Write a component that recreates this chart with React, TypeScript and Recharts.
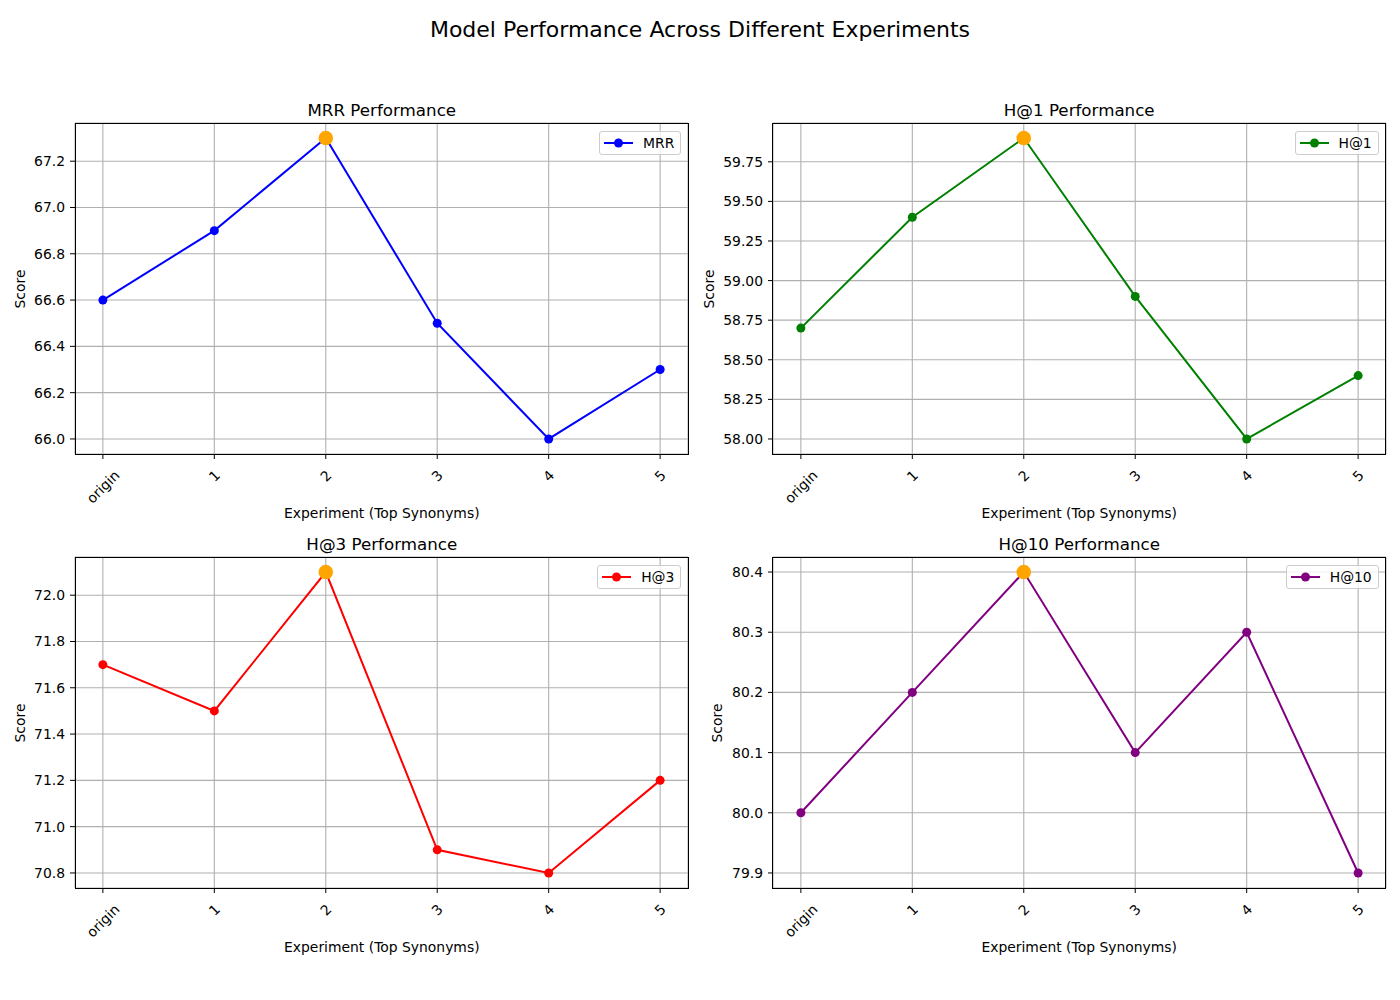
import React from 'react';
import { LineChart, Line, XAxis, YAxis, CartesianGrid } from 'recharts';

const categories = ['origin', '1', '2', '3', '4', '5'];

const mrrValues = [66.6, 66.9, 67.3, 66.5, 66.0, 66.3];
const h1Values = [58.7, 59.4, 59.9, 58.9, 58.0, 58.4];
const h3Values = [71.7, 71.5, 72.1, 70.9, 70.8, 71.2];
const h10Values = [80.0, 80.2, 80.4, 80.1, 80.3, 79.9];

const mrrTicks = [66.0, 66.2, 66.4, 66.6, 66.8, 67.0, 67.2];
const h1Ticks = [58.0, 58.25, 58.5, 58.75, 59.0, 59.25, 59.5, 59.75];
const h3Ticks = [70.8, 71.0, 71.2, 71.4, 71.6, 71.8, 72.0];
const h10Ticks = [79.9, 80.0, 80.1, 80.2, 80.3, 80.4];

const PLOT_W = 613;
const PLOT_H = 331;
const FONT = '"DejaVu Sans", sans-serif';

// rough width of rotated tick labels, used to place them like matplotlib does
const labelWidth = (s: string) => (s === 'origin' ? 40 : 9 * s.length);

function XTick(props: any) {
  const { x, y, payload } = props;
  const label = categories[payload.value];
  const diag = (labelWidth(label) + 16) * 0.707;
  const cy = y + 3 + diag / 2;
  return (
    <text
      x={x}
      y={cy}
      textAnchor="middle"
      dominantBaseline="central"
      fontSize={13.9}
      fill="#000"
      transform={`rotate(-45, ${x}, ${cy})`}
    >
      {label}
    </text>
  );
}

interface PanelProps {
  left: number;
  top: number;
  title: string;
  name: string;
  color: string;
  values: number[];
  ticks: number[];
  decimals: number;
  scoreX: number;
}

function Panel({ left, top, title, name, color, values, ticks, decimals, scoreX }: PanelProps) {
  const data = categories.map((c, i) => ({ x: i, label: c, value: values[i] }));
  const lo = Math.min(...values);
  const hi = Math.max(...values);
  const pad = (hi - lo) * 0.05;
  const maxIdx = values.indexOf(hi);

  return (
    <>
      <div
        style={{
          position: 'absolute',
          left: left + PLOT_W / 2,
          top: top - 13,
          transform: 'translate(-50%, -50%)',
          fontSize: 16.7,
          lineHeight: 1,
          whiteSpace: 'nowrap',
        }}
      >
        {title}
      </div>
      <div style={{ position: 'absolute', left: left - 75, top: top - 20 }}>
        <LineChart
          width={75 + PLOT_W + 10}
          height={20 + PLOT_H + 70}
          data={data}
          margin={{ top: 20, right: 10, left: 0, bottom: 0 }}
        >
          <CartesianGrid stroke="#b0b0b0" strokeWidth={1.1} />
          <XAxis
            dataKey="x"
            type="number"
            domain={[-0.25, 5.25]}
            ticks={[0, 1, 2, 3, 4, 5]}
            height={70}
            axisLine={false}
            tickSize={5}
            tickMargin={5}
            tickLine={{ stroke: '#000' }}
            tick={<XTick />}
            interval={0}
          />
          <YAxis
            type="number"
            domain={[lo - pad, hi + pad]}
            allowDataOverflow
            ticks={ticks}
            width={75}
            axisLine={false}
            tickSize={5}
            tickMargin={5}
            tickLine={{ stroke: '#000' }}
            tick={{ fill: '#000', fontSize: 13.9 }}
            tickFormatter={(v: number) => v.toFixed(decimals)}
            interval={0}
          />
          <Line
            dataKey="value"
            stroke={color}
            strokeWidth={2}
            isAnimationActive={false}
            dot={(p: any) =>
              p.index === maxIdx ? (
                <circle key={p.index} cx={p.cx} cy={p.cy} r={7.3} fill="#ffa500" />
              ) : (
                <circle key={p.index} cx={p.cx} cy={p.cy} r={4.5} fill={color} />
              )
            }
            activeDot={false}
          />
        </LineChart>
      </div>
      <div
        style={{
          position: 'absolute',
          left: left - 0.5,
          top: top - 0.5,
          width: PLOT_W + 1,
          height: PLOT_H + 1,
          border: '1.1px solid #000',
          boxSizing: 'border-box',
          pointerEvents: 'none',
        }}
      />
      <div
        style={{
          position: 'absolute',
          right: 1400 - (left + PLOT_W - 7),
          top: top + 7.5,
          height: 24.5,
          boxSizing: 'border-box',
          border: '1px solid #cccccc',
          borderRadius: 3,
          background: 'rgba(255,255,255,0.8)',
          display: 'flex',
          alignItems: 'center',
          padding: '0 6px 0 4px',
          fontSize: 13.9,
        }}
      >
        <svg width={29} height={12} style={{ marginRight: 10 }}>
          <line x1={0} y1={6} x2={29} y2={6} stroke={color} strokeWidth={2} />
          <circle cx={14.5} cy={6} r={4.5} fill={color} />
        </svg>
        <span>{name}</span>
      </div>
      <div
        style={{
          position: 'absolute',
          left: left + PLOT_W / 2,
          top: top + PLOT_H + 60,
          transform: 'translate(-50%, -50%)',
          fontSize: 13.9,
          lineHeight: 1,
          whiteSpace: 'nowrap',
        }}
      >
        Experiment (Top Synonyms)
      </div>
      <div
        style={{
          position: 'absolute',
          left: scoreX,
          top: top + PLOT_H / 2,
          transform: 'translate(-50%, -50%) rotate(-90deg)',
          fontSize: 13.9,
          lineHeight: 1,
          whiteSpace: 'nowrap',
        }}
      >
        Score
      </div>
    </>
  );
}

export default function App() {
  return (
    <div
      style={{
        position: 'absolute',
        left: 0,
        top: 0,
        width: 1400,
        height: 1000,
        background: '#fff',
        fontFamily: FONT,
        color: '#000',
      }}
    >
      <div
        style={{
          position: 'absolute',
          left: 700,
          top: 30,
          transform: 'translate(-50%, -50%)',
          fontSize: 22,
          lineHeight: 1,
          whiteSpace: 'nowrap',
        }}
      >
        Model Performance Across Different Experiments
      </div>
      <Panel left={75.3} top={123.3} title="MRR Performance" name="MRR" color="#0000ff" values={mrrValues} ticks={mrrTicks} decimals={1} scoreX={21} />
      <Panel left={772.7} top={123.3} title="H@1 Performance" name="H@1" color="#008000" values={h1Values} ticks={h1Ticks} decimals={2} scoreX={710} />
      <Panel left={75.3} top={557.3} title="H@3 Performance" name="H@3" color="#ff0000" values={h3Values} ticks={h3Ticks} decimals={1} scoreX={21} />
      <Panel left={772.7} top={557.3} title="H@10 Performance" name="H@10" color="#800080" values={h10Values} ticks={h10Ticks} decimals={1} scoreX={718} />
    </div>
  );
}
